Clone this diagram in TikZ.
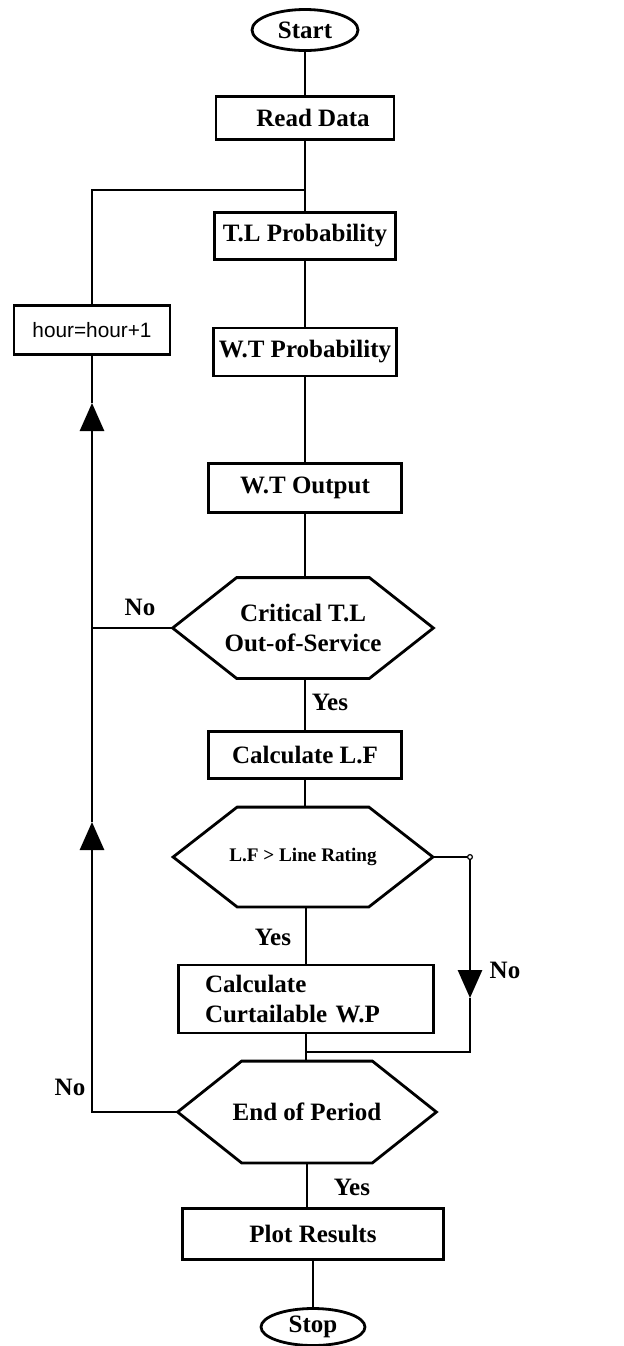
\documentclass[tikz,border=0pt]{standalone}
\usepackage{fontspec}
\setmainfont{Liberation Serif}
\newfontfamily\hoursans{Liberation Sans}
\usetikzlibrary{arrows.meta,shapes.geometric}

\begin{document}
\begin{tikzpicture}[
 x=0.5pt,y=-0.5pt,line width=1.4pt,
 txt/.style={font=\bfseries\fontsize{12.5}{15}\selectfont,align=center},
 term/.style={txt,draw,ellipse,inner sep=0pt},
 stepbox/.style={txt,draw,rectangle,inner sep=2pt},
 decision/.style={txt,rectangle,inner sep=0pt,
  append after command={\pgfextra{\draw ([xshift=32pt]\tikzlastnode.north west)
   -- ([xshift=-32pt]\tikzlastnode.north east) -- (\tikzlastnode.east)
   -- ([xshift=-32pt]\tikzlastnode.south east) -- ([xshift=32pt]\tikzlastnode.south west)
   -- (\tikzlastnode.west) -- cycle;}}},
 lbl/.style={font=\bfseries\fontsize{12.5}{15}\selectfont},
 link/.style={draw,line width=1.4pt},
 flow/.style={link,-{Triangle[length=14pt,width=12pt]}}
]
\useasboundingbox (0,0) rectangle (624,1346);

% Main column.
\node[term,minimum width=53pt,minimum height=20.5pt] (start) at (305,30) {Start};
\node[stepbox,minimum width=89pt,minimum height=21.5pt] (read) at (305,118) {\hspace{8pt}Read Data};
\node[stepbox,minimum width=90.5pt,minimum height=23.5pt] (tlprob) at (305,236) {T.L Probability};
\node[stepbox,minimum width=91.5pt,minimum height=24pt] (wtprob) at (305,352) {W.T Probability};
\node[stepbox,minimum width=96.5pt,minimum height=24.5pt] (wtout) at (305,488) {W.T Output};
\node[decision,minimum width=129pt,minimum height=49pt] (crit) at (303,628) {Critical T.L\\Out-of-Service};
\node[stepbox,minimum width=96.5pt,minimum height=23.5pt] (calclf) at (305,755) {Calculate L.F};
\node[decision,minimum width=128.5pt,minimum height=48.5pt,font=\bfseries\fontsize{9.6}{11}\selectfont] (lfcheck) at (303,857) {L.F > Line Rating};
\node[stepbox,minimum width=127.5pt,minimum height=34pt,text width=101pt,align=left] (curt) at (306,999) {Calculate\\Curtailable W.P};
\node[decision,minimum width=128pt,minimum height=49.5pt] (endp) at (307,1112) {End of Period};
\node[stepbox,minimum width=130.5pt,minimum height=25.5pt] (plot) at (313,1234) {Plot Results};
\node[term,minimum width=52pt,minimum height=18.5pt] (stop) at (313,1327) {Stop};

% Loop counter.
\node[stepbox,minimum width=78pt,minimum height=24.5pt,font=\hoursans\fontsize{10.4}{12}\selectfont] (hour) at (92,330) {hour=hour+1};

\coordinate (join) at (305,190);
\coordinate (uptip) at (92,403);
\coordinate (lowtip) at (92,822);
\coordinate (bend) at (470,857);
\coordinate (downtip) at (470,998);
\coordinate (merge) at (305,1052);

\draw[link] (start) -- (read);
\draw[link] (read) -- (tlprob);
\draw[link] (tlprob) -- (wtprob);
\draw[link] (wtprob) -- (wtout);
\draw[link] (wtout.south) -- (wtout.south |- crit.north);
\draw[link] (crit.south -| calclf) -- (calclf);
\draw[link] (calclf.south) -- (calclf.south |- lfcheck.north);
\draw[link] (lfcheck.south -| curt) -- (curt);
\draw[link] (curt.south) -- (curt.south |- endp.north);
\draw[link] (endp.south) -- (endp.south |- plot.north);
\draw[link] (plot) -- (stop);

% No branches.
\draw[link] (hour.north) |- (join);
\draw[flow] (crit.west) -| (uptip);
\draw[link] (uptip) -- (hour.south);
\draw[flow] (endp.west) -| (lowtip);
\draw[link] (lowtip) -- (92,628);
\draw[flow] (lfcheck.east) -- (bend) -- (downtip);
\draw[link] (downtip) |- (merge);
\draw[line width=.6pt,fill=white] (bend) circle (1.2pt);

% Labels.
\node[lbl] (no1) at (140,607) {No};
\node[lbl] (yes1) at (330,702) {Yes};
\node[lbl] (yes2) at (273,937) {Yes};
\node[lbl] (no2) at (505,970) {No};
\node[lbl] (no3) at (70,1087) {No};
\node[lbl] (yes3) at (352,1187) {Yes};
\end{tikzpicture}
\end{document}
